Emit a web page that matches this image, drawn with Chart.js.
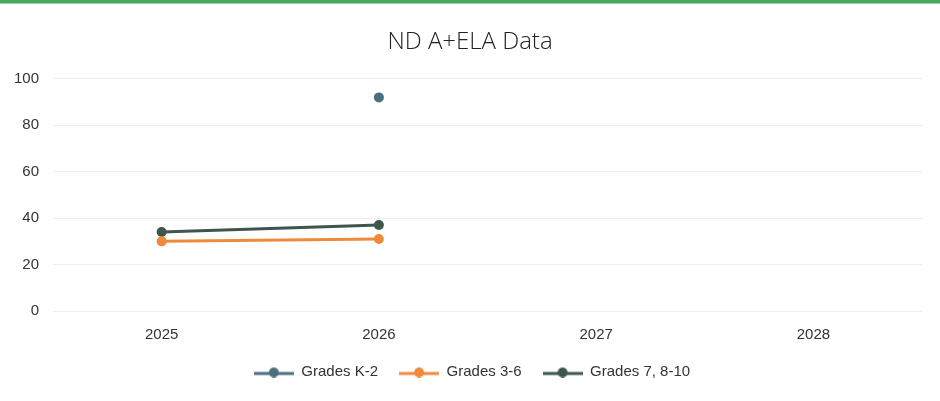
<!DOCTYPE html>
<html>
<head>
<meta charset="utf-8">
<script src="https://cdn.jsdelivr.net/npm/chart.js@4/dist/chart.umd.min.js"></script>
<style>
    html, body { margin: 0; padding: 0; background: #fff; }
    .frame {
        width: 940px;
        height: 401px;
        box-sizing: border-box;
        border-top: 3px solid #3fae5a;
        position: relative;
    }
    .frame::before {
        content: '';
        position: absolute;
        left: 0; right: 0; top: 0;
        height: 1px;
        background: #b9bdb9;
    }
    #chart { display: block; }
</style>
</head>
<body>
<div class="frame">
    <canvas id="chart" width="940" height="398"></canvas>
</div>
<script>
const years = ['2025', '2026', '2027', '2028'];
const gradesK2 = [null, 92, null, null];
const grades36 = [30, 31, null, null];
const grades7810 = [34, 37, null, null];
const yTicks = [0, 20, 40, 60, 80, 100];

const textColor = '#333333';

const legendMarker = (color) => {
    const c = document.createElement('canvas');
    c.width = 40;
    c.height = 12;
    const ctx = c.getContext('2d');
    ctx.strokeStyle = color;
    ctx.lineWidth = 3;
    ctx.beginPath();
    ctx.moveTo(0, 8);
    ctx.lineTo(40, 8);
    ctx.stroke();
    ctx.fillStyle = color;
    ctx.beginPath();
    ctx.arc(20, 7, 5, 0, Math.PI * 2);
    ctx.fill();
    return c;
};

const series = [
    { label: 'Grades K-2', data: gradesK2, color: '#4b6e80' },
    { label: 'Grades 3-6', data: grades36, color: '#ef8a3c' },
    { label: 'Grades 7, 8-10', data: grades7810, color: '#3f564c' },
];

// centre title and legend on the full canvas rather than the padded box
const centreBlocks = {
    id: 'centreBlocks',
    afterLayout(chart) {
        if (chart.titleBlock) {
            chart.titleBlock.left += 9;
            chart.titleBlock.right += 9;
        }
        if (chart.legend) {
            chart.legend.left += 11;
            chart.legend.right += 11;
        }
    },
};

new Chart(document.getElementById('chart').getContext('2d'), {
    type: 'line',
    data: {
        labels: years,
        datasets: series.map((s) => ({
            label: s.label,
            data: s.data,
            borderColor: s.color,
            backgroundColor: s.color,
            borderWidth: 3,
            pointRadius: 5,
            pointBorderWidth: 0,
            tension: 0,
            spanGaps: false,
            marker: legendMarker(s.color),
        })),
    },
    plugins: [centreBlocks],
    options: {
        responsive: false,
        animation: false,
        layout: { padding: { left: 0, right: 18, top: 19, bottom: 12 } },
        scales: {
            x: {
                offset: true,
                grid: { display: false, drawTicks: false },
                border: { display: false },
                ticks: {
                    color: textColor,
                    font: { family: 'Liberation Sans', size: 15 },
                    padding: 15,
                },
                afterFit(scale) {
                    scale.height -= 16;
                },
            },
            y: {
                min: 0,
                max: 100,
                afterBuildTicks(axis) {
                    axis.ticks = yTicks.map((v) => ({ value: v }));
                },
                grid: { color: '#eeeeee', lineWidth: 1, drawTicks: false },
                border: { display: false },
                ticks: {
                    color: textColor,
                    font: { family: 'Liberation Sans', size: 15 },
                    padding: 14,
                },
            },
        },
        plugins: {
            title: {
                display: true,
                text: 'ND A+ELA Data',
                color: '#222222',
                font: { family: 'Open Sans', size: 24, weight: '300' },
                padding: { top: 6, bottom: 22 },
            },
            legend: {
                position: 'bottom',
                labels: {
                    color: textColor,
                    font: { family: 'Liberation Sans', size: 15 },
                    usePointStyle: true,
                    pointStyleWidth: 40,
                    boxHeight: 12,
                    padding: 21,
                    generateLabels(chart) {
                        return chart.data.datasets.map((ds, i) => ({
                            text: ds.label,
                            fillStyle: ds.borderColor,
                            strokeStyle: ds.borderColor,
                            pointStyle: ds.marker,
                            hidden: !chart.isDatasetVisible(i),
                            datasetIndex: i,
                            fontColor: textColor,
                        }));
                    },
                },
            },
            tooltip: { enabled: false },
        },
    },
});
</script>
</body>
</html>
